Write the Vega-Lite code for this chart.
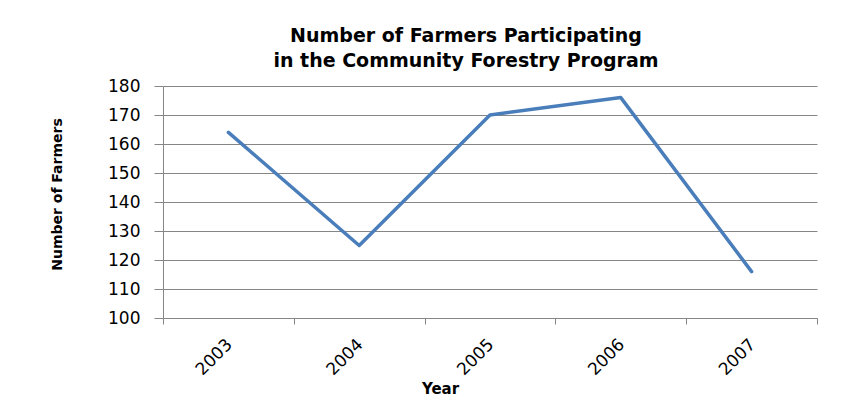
{
  "$schema": "https://vega.github.io/schema/vega-lite/v6.json",
  "autosize": "none",
  "width": 654,
  "height": 232,
  "padding": {"left": 163, "top": 86, "right": 27, "bottom": 91},
  "background": "white",
  "title": {
    "text": ["Number of Farmers Participating", "in the Community Forestry Program"],
    "font": "DejaVu Sans",
    "fontWeight": "bold",
    "fontSize": 19,
    "lineHeight": 25,
    "color": "#000000",
    "dx": -24,
    "offset": 6
  },
  "data": {
    "values": [
      {"Year": "2003", "Farmers": 164},
      {"Year": "2004", "Farmers": 125},
      {"Year": "2005", "Farmers": 170},
      {"Year": "2006", "Farmers": 176},
      {"Year": "2007", "Farmers": 116}
    ]
  },
  "mark": {"type": "line", "color": "#4A7EBB", "strokeWidth": 3.5, "strokeCap": "round", "strokeJoin": "round"},
  "encoding": {
    "x": {
      "field": "Year",
      "type": "ordinal",
      "bandPosition": 0.5,
      "scale": {"type": "band", "paddingInner": 0, "paddingOuter": 0},
      "axis": {
        "title": "Year",
        "titleFont": "DejaVu Sans",
        "titleFontWeight": "bold",
        "titleFontSize": 15,
        "titleColor": "#000000",
        "titleX": 277,
        "titleY": 70,
        "titleBaseline": "middle",
        "labelAngle": -45,
        "labelFont": "DejaVu Sans",
        "labelFontSize": 17,
        "labelColor": "#000000",
        "labelPadding": 12,
        "labelOffset": -5,
        "tickBand": "extent",
        "tickSize": 6,
        "tickColor": "#868686",
        "domainColor": "#868686",
        "grid": false
      }
    },
    "y": {
      "field": "Farmers",
      "type": "quantitative",
      "scale": {"domain": [100, 180], "nice": false, "zero": false},
      "axis": {
        "values": [100, 110, 120, 130, 140, 150, 160, 170, 180],
        "title": "Number of Farmers",
        "titleFont": "DejaVu Sans",
        "titleFontWeight": "bold",
        "titleFontSize": 14,
        "titleColor": "#000000",
        "titleX": -106,
        "titleY": 108,
        "titleAngle": -90,
        "titleAlign": "center",
        "titleBaseline": "middle",
        "labelFont": "DejaVu Sans",
        "labelFontSize": 17,
        "labelColor": "#000000",
        "labelPadding": 14,
        "tickSize": 9,
        "tickColor": "#868686",
        "domainColor": "#868686",
        "grid": true,
        "gridColor": "#868686",
        "gridWidth": 1
      }
    }
  },
  "config": {"view": {"stroke": null}}
}
